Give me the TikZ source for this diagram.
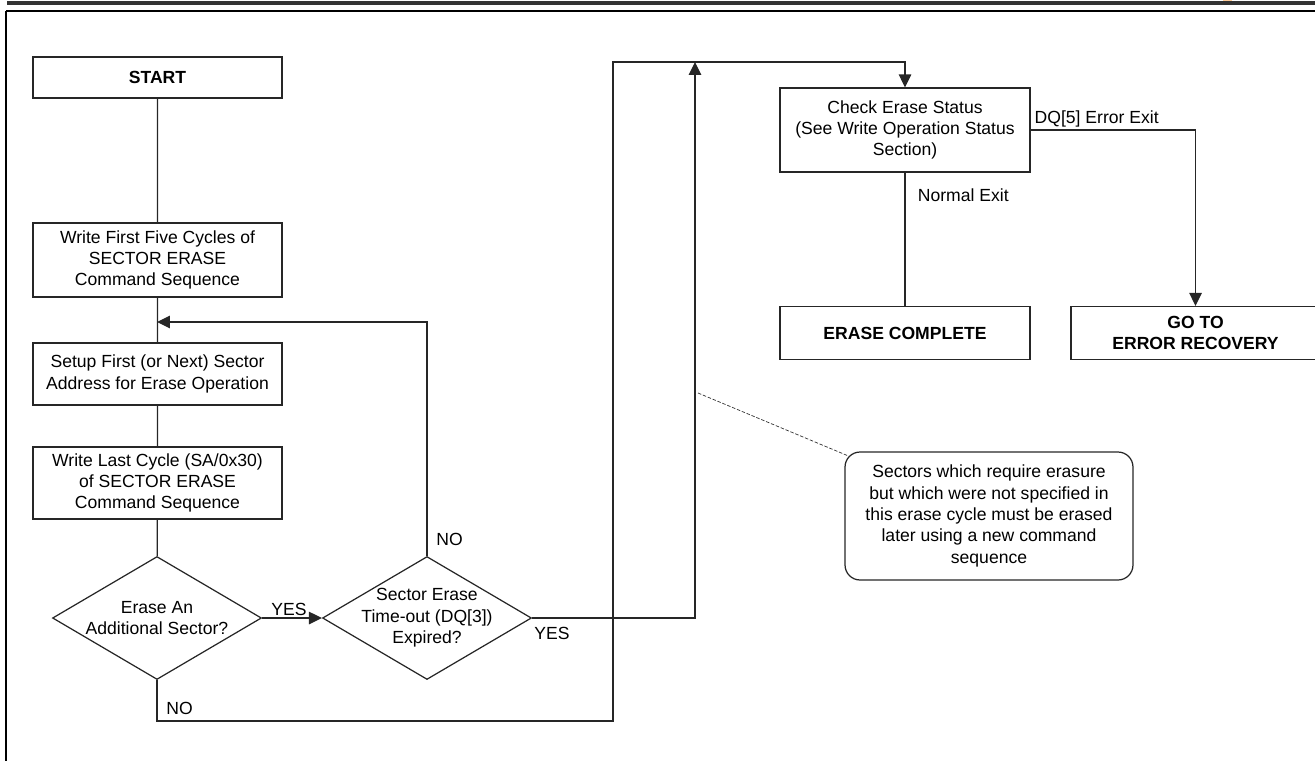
\documentclass[tikz,border=0pt]{standalone}
\usepackage{fontspec}
\setmainfont{Liberation Sans}
\usetikzlibrary{arrows.meta,shapes.geometric}

\newcommand{\boxfont}{\fontsize{10}{12.2}\selectfont}
\tikzset{
    box/.style={draw=black!85,line width=0.7pt,rectangle,minimum width=4.98cm,inner sep=0pt,align=center,font=\boxfont},
    boldbox/.style={box,font=\boxfont\bfseries},
    dia/.style={draw=black!85,line width=0.7pt,diamond,minimum width=4.18cm,minimum height=2.46cm,inner sep=0pt},
    lbl/.style={inner sep=1pt,align=center,font=\boxfont},
    wire/.style={draw=black!85,line width=0.7pt},
    tip/.style={-{Triangle[length=0.26cm,width=0.25cm]}}
}

\begin{document}
\begin{tikzpicture}[x=0.02cm,y=-0.02cm]
                \useasboundingbox (0,0) rectangle (1315,761);
                \fill[orange!40] (1223,0) rectangle (1232,2);
                \draw[line width=1.8pt,black!80] (7,3) -- (1315,3);
                \draw[line width=0.9pt] (6,11) -- (1315,11);
                \draw[line width=1pt] (6,11) -- (6,761);

                \node[boldbox,minimum height=0.82cm] (start) at (157.5,77.5) {START};
                \node[box,minimum height=1.48cm] (write5) at (157.5,260) {Write First Five Cycles of\\SECTOR ERASE\\Command Sequence};
                \node[box,minimum height=1.24cm] (setup) at (157.5,374) {Setup First (or Next) Sector\\Address for Erase Operation};
                \node[box,minimum height=1.44cm] (last) at (157.5,483) {Write Last Cycle (SA/0x30)\\of SECTOR ERASE\\Command Sequence};
                \node[dia] (more) at (157,618) {};
                \node[dia] (tmo) at (427,618) {};
                \node[lbl] (moretxt) at (more) {Erase An\\Additional Sector?};
                \node[lbl] (tmotxt) at (tmo) {Sector Erase\\Time-out (DQ[3])\\Expired?};

                \node[box,minimum width=5cm,minimum height=1.68cm] (chk) at (905,130) {Check Erase Status\\(See Write Operation Status\\Section)};
                \node[boldbox,minimum width=5cm,minimum height=1.06cm] (done) at (905,333) {ERASE COMPLETE};
                \node[boldbox,minimum height=1.06cm] (err) at (1195.5,333) {GO TO\\ERROR RECOVERY};
                \node[box,rounded corners=0.3cm,minimum width=5.76cm,minimum height=2.56cm] (note) at (989,516) {Sectors which require erasure\\but which were not specified in\\this erase cycle must be erased\\later using a new command\\sequence};

                \coordinate (loopin) at (157,322);
                \coordinate (loopup) at (427,322);
                \coordinate (nodown) at (157,721);
                \coordinate (nocorner) at (613,721);
                \coordinate (nocorner2) at (613,62);
                \coordinate (topin) at (905,62);
                \coordinate (yesout) at (695,618);
                \coordinate (yesup) at (695,62);
                \coordinate (errturn) at (1195.5,130);
                \coordinate (callfoot) at (698,393);

                \draw[wire] (start) -- (write5) (write5) -- (setup) (setup) -- (last) (last) -- (more);
                \draw[wire,tip] (more) -- node[lbl,pos=0.45,above] {YES} (tmo);
                \draw[wire,tip] (tmo.north) -- node[lbl,pos=0.07,right=4pt] {NO} (loopup) -- (loopin);
                \draw[wire,tip] (more.south) -- node[lbl,pos=0.7,right=4pt] {NO} (nodown) -- (nocorner) -- (nocorner2) -- (topin) -- (chk.north);
                \draw[wire,tip] (tmo.east) -- node[lbl,pos=0,anchor=north west,yshift=-4pt] {YES} (yesout) -- (yesup);
                \draw[wire] (chk) -- node[lbl,pos=0.17,right=6pt] {Normal Exit} (done);
                \draw[wire,tip] (chk.east) -- node[lbl,pos=0,anchor=south west,xshift=1pt] {DQ[5] Error Exit} (errturn) -- (err.north);
                \draw[black!80,line width=0.4pt,dash pattern=on 2pt off 1pt] (callfoot) -- ([shift={(5,5)}]note.north west);
            \end{tikzpicture}
\end{document}
